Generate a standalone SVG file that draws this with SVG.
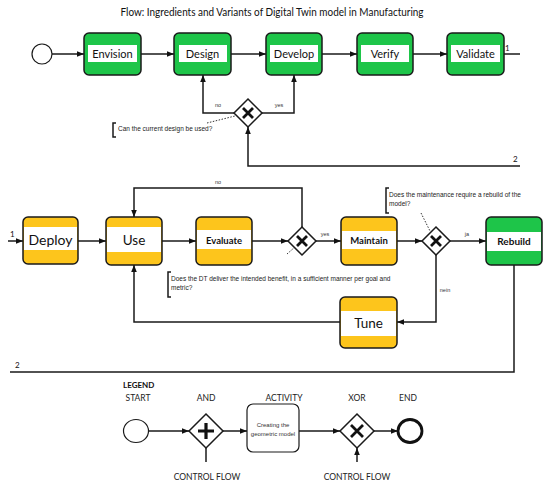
<svg xmlns="http://www.w3.org/2000/svg" width="550" height="489" viewBox="0 0 550 489">
<defs>
<style>
.box{stroke:#1a1a1a;stroke-width:1.5}
.g{fill:#1ec549}
.y{fill:#fdc51c}
.w{fill:#fff}
.lbl{font-family:Lato,"Liberation Sans",sans-serif;fill:#111;text-anchor:middle}
.ln{fill:none;stroke:#1a1a1a;stroke-width:1.5}
.dot{fill:none;stroke:#333;stroke-width:1;stroke-dasharray:1.5,1.5}
.gw{fill:#fff;stroke:#1a1a1a;stroke-width:1.5}
.x{stroke:#111;stroke-width:2.8;fill:none}
.sm{font-family:"Liberation Sans",Arial,sans-serif;font-size:6.5px;fill:#222}
.tiny{font-family:"Liberation Sans",Arial,sans-serif;font-size:5.5px;fill:#333;text-anchor:middle}
.num{font-family:Lato,"Liberation Sans",sans-serif;font-size:8px;fill:#111}
.leg{font-family:Lato,"Liberation Sans",sans-serif;font-size:8.5px;fill:#222;text-anchor:middle}
.act{font-family:"Liberation Sans",Arial,sans-serif;font-size:6px;fill:#333;text-anchor:middle}
</style>
<marker id="ah" viewBox="0 0 10 10" refX="10" refY="5" markerWidth="7" markerHeight="7" markerUnits="userSpaceOnUse" orient="auto"><path d="M0,1 L10,5 L0,9 z" fill="#111"/></marker>
</defs>
<rect width="550" height="489" fill="#fff"/>
<text x="272" y="16" class="lbl" font-size="10.5" textLength="303" lengthAdjust="spacingAndGlyphs">Flow: Ingredients and Variants of Digital Twin model in Manufacturing</text>

<g id="connectors">
<line x1="52" y1="54" x2="84" y2="54" class="ln" marker-end="url(#ah)"/>
<line x1="141" y1="54" x2="174" y2="54" class="ln" marker-end="url(#ah)"/>
<line x1="231" y1="54" x2="266" y2="54" class="ln" marker-end="url(#ah)"/>
<line x1="322" y1="54" x2="357" y2="54" class="ln" marker-end="url(#ah)"/>
<line x1="413" y1="54" x2="447" y2="54" class="ln" marker-end="url(#ah)"/>
<line x1="504" y1="54" x2="520" y2="54" class="ln"/>
<polyline points="234,113 203,113 203,75" class="ln" marker-end="url(#ah)"/>
<polyline points="262,113 294,113 294,75" class="ln" marker-end="url(#ah)"/>
<polyline points="520,166 248,166 248,127" class="ln" marker-end="url(#ah)"/>
<line x1="207" y1="123" x2="235" y2="116" class="dot"/>
<line x1="8" y1="241" x2="23" y2="241" class="ln" marker-end="url(#ah)"/>
<line x1="78" y1="241" x2="106" y2="241" class="ln" marker-end="url(#ah)"/>
<line x1="162" y1="241" x2="196" y2="241" class="ln" marker-end="url(#ah)"/>
<line x1="252" y1="241" x2="288" y2="241" class="ln" marker-end="url(#ah)"/>
<line x1="316" y1="241" x2="341" y2="241" class="ln" marker-end="url(#ah)"/>
<line x1="397" y1="241" x2="422" y2="241" class="ln" marker-end="url(#ah)"/>
<line x1="450" y1="241" x2="486" y2="241" class="ln" marker-end="url(#ah)"/>
<polyline points="302,227 302,188 134,188 134,217" class="ln" marker-end="url(#ah)"/>
<polyline points="436,255 436,322 397,322" class="ln" marker-end="url(#ah)"/>
<polyline points="340,322 134,322 134,265" class="ln" marker-end="url(#ah)"/>
<polyline points="514,265 514,372 10,372" class="ln"/>
<line x1="287" y1="254" x2="295" y2="247" class="dot"/>
<line x1="421" y1="213" x2="430" y2="231" class="dot"/>
<text x="218" y="107" class="tiny">no</text>
<text x="279" y="107" class="tiny">yes</text>
<text x="505" y="51" class="num">1</text>
<text x="513" y="162" class="num">2</text>
<text x="10" y="237" class="num">1</text>
<text x="15" y="368" class="num">2</text>
<text x="218" y="184" class="tiny">no</text>
<text x="325" y="236" class="tiny">yes</text>
<text x="467" y="236" class="tiny">ja</text>
<text x="445" y="292" class="tiny">nein</text>
</g>

<g id="start"><circle cx="42" cy="54" r="10" fill="#fff" stroke="#1a1a1a" stroke-width="1.2"/></g>

<g id="envision"><rect x="84" y="33" width="57" height="42" rx="5" class="box g"/><rect x="88" y="45" width="49" height="17" class="w"/><text x="112.5" y="57.5" class="lbl" font-size="11">Envision</text></g>
<g id="design"><rect x="174" y="33" width="57" height="42" rx="5" class="box g"/><rect x="179" y="45" width="48" height="17" class="w"/><text x="202.5" y="57.5" class="lbl" font-size="11">Design</text></g>
<g id="develop"><rect x="266" y="33" width="56" height="42" rx="5" class="box g"/><rect x="270" y="45" width="48" height="17" class="w"/><text x="294" y="57.5" class="lbl" font-size="11">Develop</text></g>
<g id="verify"><rect x="357" y="33" width="56" height="42" rx="5" class="box g"/><rect x="361" y="45" width="48" height="17" class="w"/><text x="385" y="57.5" class="lbl" font-size="11">Verify</text></g>
<g id="validate"><rect x="447" y="33" width="57" height="42" rx="5" class="box g"/><rect x="451" y="45" width="49" height="17" class="w"/><text x="475.5" y="57.5" class="lbl" font-size="11">Validate</text></g>

<g id="gateway1"><path d="M248,99 L262,113 L248,127 L234,113 z" class="gw"/><path d="M243,108 L253,118 M253,108 L243,118" class="x"/></g>
<g id="note1"><path d="M116,123 L113,123 L113,137 L116,137" class="ln" stroke-width="1"/><text x="118" y="131" class="sm">Can the current design be used?</text></g>

<g id="deploy"><rect x="23" y="217" width="55" height="47" rx="5" class="box y"/><rect x="24" y="227" width="53" height="23" class="w"/><text x="50.5" y="244.5" class="lbl" font-size="14">Deploy</text></g>
<g id="use"><rect x="106" y="217" width="56" height="48" rx="5" class="box y"/><rect x="107" y="227" width="54" height="25" class="w"/><text x="134" y="245" class="lbl" font-size="13.5">Use</text></g>
<g id="evaluate"><rect x="196" y="217" width="56" height="48" rx="5" class="box y"/><rect x="197" y="230" width="54" height="19" class="w"/><text x="224" y="243.5" class="lbl" font-size="9.5" font-weight="bold">Evaluate</text></g>
<g id="gateway2"><path d="M302,227 L316,241 L302,255 L288,241 z" class="gw"/><path d="M297,236 L307,246 M307,236 L297,246" class="x"/></g>
<g id="maintain"><rect x="341" y="217" width="56" height="48" rx="5" class="box y"/><rect x="342" y="231" width="54" height="18" class="w"/><text x="369" y="244" class="lbl" font-size="9.5" font-weight="bold">Maintain</text></g>
<g id="gateway3"><path d="M436,227 L450,241 L436,255 L422,241 z" class="gw"/><path d="M431,236 L441,246 M441,236 L431,246" class="x"/></g>
<g id="rebuild"><rect x="486" y="217" width="56" height="48" rx="5" class="box g"/><rect x="487" y="232" width="54" height="19" class="w"/><text x="514" y="245" class="lbl" font-size="10" font-weight="bold">Rebuild</text></g>
<g id="tune"><rect x="340" y="297" width="57" height="51" rx="5" class="box y"/><rect x="341" y="311" width="55" height="25" class="w"/><text x="368.5" y="328" class="lbl" font-size="13.5">Tune</text></g>
<g id="note2"><path d="M171,272 L168,272 L168,297 L171,297" class="ln" stroke-width="1"/><text x="171" y="281" class="sm">Does the DT deliver the intended benefit, in a sufficient manner per goal and</text><text x="171" y="290" class="sm">metric?</text></g>
<g id="note3"><path d="M389,188 L386,188 L386,213 L389,213" class="ln" stroke-width="1"/><text x="389" y="197" class="sm">Does the maintenance require a rebuild of the</text><text x="389" y="206" class="sm">model?</text></g>

<g id="legend">
<text x="123" y="388" font-family="Lato,'Liberation Sans',sans-serif" font-size="8" font-weight="bold" fill="#111">LEGEND</text>
<text x="138" y="401" class="leg">START</text>
<text x="206" y="401" class="leg">AND</text>
<text x="284" y="401" class="leg">ACTIVITY</text>
<text x="357" y="401" class="leg">XOR</text>
<text x="408" y="401" class="leg">END</text>
<text x="207" y="480" class="leg">CONTROL FLOW</text>
<text x="357" y="480" class="leg">CONTROL FLOW</text>
<line x1="148" y1="431" x2="189" y2="431" class="ln" stroke-width="1.2" marker-end="url(#ah)"/>
<line x1="223" y1="431" x2="247" y2="431" class="ln" stroke-width="1.2" marker-end="url(#ah)"/>
<line x1="299" y1="431" x2="340" y2="431" class="ln" stroke-width="1.2" marker-end="url(#ah)"/>
<line x1="374" y1="431" x2="398" y2="431" class="ln" stroke-width="1.2" marker-end="url(#ah)"/>
<line x1="206" y1="448" x2="206" y2="462" class="ln" stroke-width="1.2"/>
<line x1="357" y1="462" x2="357" y2="448" class="ln" stroke-width="1.2" marker-end="url(#ah)"/>
<ellipse cx="136" cy="431" rx="12.5" ry="11.5" fill="#fff" stroke="#1a1a1a" stroke-width="1.2"/>
<path d="M206,414 L223,431 L206,448 L189,431 z" class="gw" stroke-width="1.2"/>
<path d="M206,423 L206,439 M198,431 L214,431" stroke="#111" stroke-width="3.2"/>
<rect x="247" y="404" width="52" height="48" rx="6" fill="#fff" stroke="#1a1a1a" stroke-width="1.2"/>
<text x="273" y="427" class="act">Creating the</text>
<text x="273" y="435.5" class="act">geometric model</text>
<path d="M357,414 L374,431 L357,448 L340,431 z" class="gw" stroke-width="1.2"/>
<path d="M351,425 L363,437 M363,425 L351,437" class="x"/>
<ellipse cx="410" cy="431" rx="12" ry="11.5" fill="#fff" stroke="#111" stroke-width="2.8"/>
</g>
</svg>
